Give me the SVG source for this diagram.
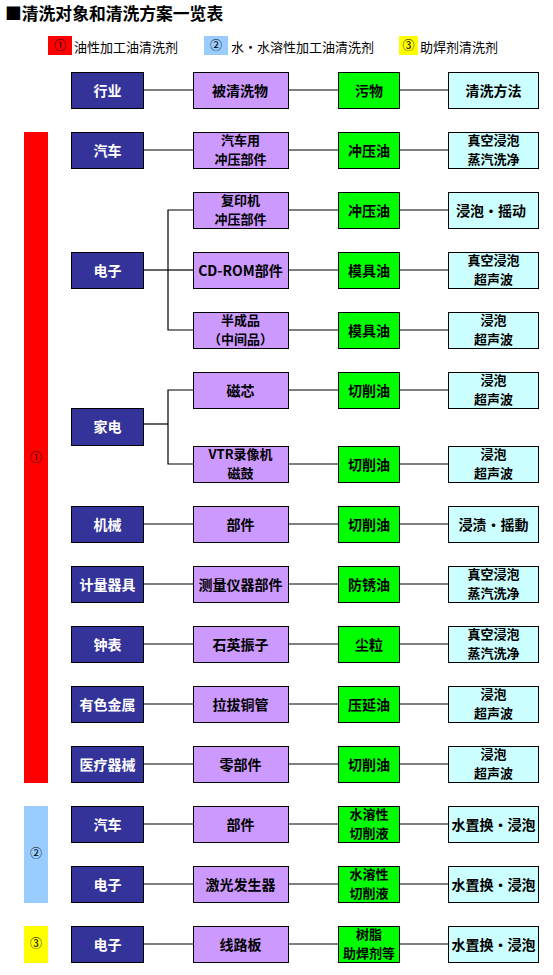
<svg xmlns="http://www.w3.org/2000/svg" width="553" height="975" viewBox="0 0 553 975">
<style>
text{font-family:"Noto Sans CJK SC","Noto Sans",sans-serif;text-anchor:middle}
.b rect{stroke:#000;stroke-width:1}
.c1 rect{fill:#333399}
.c1 text{fill:#fff;font-size:14px;font-weight:bold}
.c2 rect{fill:#CC99FF}
.c3 rect{fill:#00FF00}
.c4 rect{fill:#CCFFFF}
.c2 text,.c3 text,.c4 text{fill:#000;font-size:14px;font-weight:bold}
.c2 text.t2,.c3 text.t2,.c4 text.t2{font-size:13px}
.lg{font-size:13px;text-anchor:start}
.num{font-size:12px;fill:#000}
#connectors line,#connectors polyline{stroke:#000;stroke-width:1.2;fill:none}
</style>
<rect width="553" height="975" fill="#fff"/>
<g id="title"><text x="5" y="20" style="font-size:16.8px;font-weight:bold;text-anchor:start">■清洗对象和清洗方案一览表</text></g>
<g id="legend">
<rect x="48" y="36" width="24" height="19" fill="#FF0000"/><text class="num" x="60" y="50">①</text>
<text class="lg" x="74" y="52">油性加工油清洗剂</text>
<rect x="204" y="36" width="24" height="19" fill="#99CCFF"/><text class="num" x="216" y="50">②</text>
<text class="lg" x="231" y="52">水・水溶性加工油清洗剂</text>
<rect x="399" y="36" width="19" height="19" fill="#FFFF00"/><text class="num" x="408.5" y="50">③</text>
<text class="lg" x="420" y="52">助焊剂清洗剂</text>
</g>
<g id="bars">
<rect x="24" y="132" width="24" height="651" fill="#FF0000"/><text class="num" x="36" y="462">①</text>
<rect x="24" y="806" width="24" height="97" fill="#99CCFF"/><text class="num" x="36" y="858">②</text>
<rect x="24" y="926" width="24" height="37" fill="#FFFF00"/><text class="num" x="36" y="948">③</text>
</g>
<g id="connectors">
<line x1="144" y1="90" x2="193" y2="90"/><line x1="289" y1="90" x2="338" y2="90"/><line x1="400" y1="90" x2="448" y2="90"/>
<line x1="144" y1="150" x2="193" y2="150"/><line x1="289" y1="150" x2="338" y2="150"/><line x1="400" y1="150" x2="448" y2="150"/>
<line x1="144" y1="270" x2="168" y2="270"/>
<polyline points="193,210 168,210 168,330 193,330"/><line x1="168" y1="270" x2="193" y2="270"/>
<line x1="289" y1="210" x2="338" y2="210"/><line x1="400" y1="210" x2="448" y2="210"/>
<line x1="289" y1="270" x2="338" y2="270"/><line x1="400" y1="270" x2="448" y2="270"/>
<line x1="289" y1="330" x2="338" y2="330"/><line x1="400" y1="330" x2="448" y2="330"/>
<line x1="144" y1="424" x2="168" y2="424"/>
<polyline points="193,390 168,390 168,464 193,464"/>
<line x1="289" y1="390" x2="338" y2="390"/><line x1="400" y1="390" x2="448" y2="390"/>
<line x1="289" y1="464" x2="338" y2="464"/><line x1="400" y1="464" x2="448" y2="464"/>
<line x1="144" y1="524" x2="193" y2="524"/><line x1="289" y1="524" x2="338" y2="524"/><line x1="400" y1="524" x2="448" y2="524"/>
<line x1="144" y1="584" x2="193" y2="584"/><line x1="289" y1="584" x2="338" y2="584"/><line x1="400" y1="584" x2="448" y2="584"/>
<line x1="144" y1="644" x2="193" y2="644"/><line x1="289" y1="644" x2="338" y2="644"/><line x1="400" y1="644" x2="448" y2="644"/>
<line x1="144" y1="704" x2="193" y2="704"/><line x1="289" y1="704" x2="338" y2="704"/><line x1="400" y1="704" x2="448" y2="704"/>
<line x1="144" y1="764" x2="193" y2="764"/><line x1="289" y1="764" x2="338" y2="764"/><line x1="400" y1="764" x2="448" y2="764"/>
<line x1="144" y1="824" x2="193" y2="824"/><line x1="289" y1="824" x2="338" y2="824"/><line x1="400" y1="824" x2="448" y2="824"/>
<line x1="144" y1="884" x2="193" y2="884"/><line x1="289" y1="884" x2="338" y2="884"/><line x1="400" y1="884" x2="448" y2="884"/>
<line x1="144" y1="944" x2="193" y2="944"/><line x1="289" y1="944" x2="338" y2="944"/><line x1="400" y1="944" x2="448" y2="944"/>
</g>
<!-- header row -->
<g id="h1" class="b c1"><rect x="71.5" y="72.5" width="72" height="36"/><text x="107.5" y="95.5">行业</text></g>
<g id="h2" class="b c2"><rect x="193.5" y="72.5" width="95" height="36"/><text x="240" y="95.5">被清洗物</text></g>
<g id="h3" class="b c3"><rect x="338.5" y="72.5" width="61" height="36"/><text x="369" y="95.5">污物</text></g>
<g id="h4" class="b c4"><rect x="448.5" y="72.5" width="90" height="36"/><text x="493.5" y="95.5">清洗方法</text></g>
<!-- row 汽车 -->
<g id="n1a" class="b c1"><rect x="71.5" y="132.5" width="72" height="36"/><text x="107.5" y="155.5">汽车</text></g>
<g id="n1b" class="b c2"><rect x="193.5" y="132.5" width="95" height="36"/><text class="t2" x="240.5" y="145">汽车用<tspan x="240.5" dy="19">冲压部件</tspan></text></g>
<g id="n1c" class="b c3"><rect x="338.5" y="132.5" width="61" height="36"/><text x="369" y="155.5">冲压油</text></g>
<g id="n1d" class="b c4"><rect x="448.5" y="132.5" width="90" height="36"/><text class="t2" x="493.5" y="145">真空浸泡<tspan x="493.5" dy="19">蒸汽洗净</tspan></text></g>
<!-- 电子 -->
<g id="n2a" class="b c1"><rect x="71.5" y="252.5" width="72" height="36"/><text x="107.5" y="275.5">电子</text></g>
<g id="n2b" class="b c2"><rect x="193.5" y="192.5" width="95" height="36"/><text class="t2" x="240.5" y="205">复印机<tspan x="240.5" dy="19">冲压部件</tspan></text></g>
<g id="n2c" class="b c3"><rect x="338.5" y="192.5" width="61" height="36"/><text x="369" y="215.5">冲压油</text></g>
<g id="n2d" class="b c4"><rect x="448.5" y="192.5" width="90" height="36"/><text x="491" y="215.5">浸泡・摇动</text></g>
<g id="n3b" class="b c2"><rect x="193.5" y="252.5" width="95" height="36"/><text x="240.5" y="275.5">CD-ROM部件</text></g>
<g id="n3c" class="b c3"><rect x="338.5" y="252.5" width="61" height="36"/><text x="369" y="275.5">模具油</text></g>
<g id="n3d" class="b c4"><rect x="448.5" y="252.5" width="90" height="36"/><text class="t2" x="493.5" y="265">真空浸泡<tspan x="493.5" dy="19">超声波</tspan></text></g>
<g id="n4b" class="b c2"><rect x="193.5" y="312.5" width="95" height="36"/><text class="t2" x="240.5" y="325">半成品<tspan x="240.5" dy="19">（中间品）</tspan></text></g>
<g id="n4c" class="b c3"><rect x="338.5" y="312.5" width="61" height="36"/><text x="369" y="335.5">模具油</text></g>
<g id="n4d" class="b c4"><rect x="448.5" y="312.5" width="90" height="36"/><text class="t2" x="493.5" y="325">浸泡<tspan x="493.5" dy="19">超声波</tspan></text></g>
<!-- 家电 -->
<g id="n5a" class="b c1"><rect x="71.5" y="408.5" width="72" height="37"/><text x="107.5" y="432">家电</text></g>
<g id="n5b" class="b c2"><rect x="193.5" y="372.5" width="95" height="36"/><text x="240.5" y="395.5">磁芯</text></g>
<g id="n5c" class="b c3"><rect x="338.5" y="372.5" width="61" height="36"/><text x="369" y="395.5">切削油</text></g>
<g id="n5d" class="b c4"><rect x="448.5" y="372.5" width="90" height="36"/><text class="t2" x="493.5" y="385">浸泡<tspan x="493.5" dy="19">超声波</tspan></text></g>
<g id="n6b" class="b c2"><rect x="193.5" y="446.5" width="95" height="36"/><text class="t2" x="240.5" y="459">VTR录像机<tspan x="240.5" dy="19">磁鼓</tspan></text></g>
<g id="n6c" class="b c3"><rect x="338.5" y="446.5" width="61" height="36"/><text x="369" y="469.5">切削油</text></g>
<g id="n6d" class="b c4"><rect x="448.5" y="446.5" width="90" height="36"/><text class="t2" x="493.5" y="459">浸泡<tspan x="493.5" dy="19">超声波</tspan></text></g>
<!-- 机械 -->
<g id="n7a" class="b c1"><rect x="71.5" y="506.5" width="72" height="36"/><text x="107.5" y="529.5">机械</text></g>
<g id="n7b" class="b c2"><rect x="193.5" y="506.5" width="95" height="36"/><text x="240.5" y="529.5">部件</text></g>
<g id="n7c" class="b c3"><rect x="338.5" y="506.5" width="61" height="36"/><text x="369" y="529.5">切削油</text></g>
<g id="n7d" class="b c4"><rect x="448.5" y="506.5" width="90" height="36"/><text x="493.5" y="529.5">浸渍・摇動</text></g>
<!-- 计量器具 -->
<g id="n8a" class="b c1"><rect x="71.5" y="566.5" width="72" height="36"/><text x="107.5" y="589.5">计量器具</text></g>
<g id="n8b" class="b c2"><rect x="193.5" y="566.5" width="95" height="36"/><text x="240.5" y="589.5">测量仪器部件</text></g>
<g id="n8c" class="b c3"><rect x="338.5" y="566.5" width="61" height="36"/><text x="369" y="589.5">防锈油</text></g>
<g id="n8d" class="b c4"><rect x="448.5" y="566.5" width="90" height="36"/><text class="t2" x="493.5" y="579">真空浸泡<tspan x="493.5" dy="19">蒸汽洗净</tspan></text></g>
<!-- 钟表 -->
<g id="n9a" class="b c1"><rect x="71.5" y="626.5" width="72" height="36"/><text x="107.5" y="649.5">钟表</text></g>
<g id="n9b" class="b c2"><rect x="193.5" y="626.5" width="95" height="36"/><text x="240.5" y="649.5">石英振子</text></g>
<g id="n9c" class="b c3"><rect x="338.5" y="626.5" width="61" height="36"/><text x="369" y="649.5">尘粒</text></g>
<g id="n9d" class="b c4"><rect x="448.5" y="626.5" width="90" height="36"/><text class="t2" x="493.5" y="639">真空浸泡<tspan x="493.5" dy="19">蒸汽洗净</tspan></text></g>
<!-- 有色金属 -->
<g id="n10a" class="b c1"><rect x="71.5" y="686.5" width="72" height="36"/><text x="107.5" y="709.5">有色金属</text></g>
<g id="n10b" class="b c2"><rect x="193.5" y="686.5" width="95" height="36"/><text x="240.5" y="709.5">拉拔铜管</text></g>
<g id="n10c" class="b c3"><rect x="338.5" y="686.5" width="61" height="36"/><text x="369" y="709.5">压延油</text></g>
<g id="n10d" class="b c4"><rect x="448.5" y="686.5" width="90" height="36"/><text class="t2" x="493.5" y="699">浸泡<tspan x="493.5" dy="19">超声波</tspan></text></g>
<!-- 医疗器械 -->
<g id="n11a" class="b c1"><rect x="71.5" y="746.5" width="72" height="36"/><text x="107.5" y="769.5">医疗器械</text></g>
<g id="n11b" class="b c2"><rect x="193.5" y="746.5" width="95" height="36"/><text x="240.5" y="769.5">零部件</text></g>
<g id="n11c" class="b c3"><rect x="338.5" y="746.5" width="61" height="36"/><text x="369" y="769.5">切削油</text></g>
<g id="n11d" class="b c4"><rect x="448.5" y="746.5" width="90" height="36"/><text class="t2" x="493.5" y="759">浸泡<tspan x="493.5" dy="19">超声波</tspan></text></g>
<!-- ② 汽车 -->
<g id="n12a" class="b c1"><rect x="71.5" y="806.5" width="72" height="36"/><text x="107.5" y="829.5">汽车</text></g>
<g id="n12b" class="b c2"><rect x="193.5" y="806.5" width="95" height="36"/><text x="240.5" y="829.5">部件</text></g>
<g id="n12c" class="b c3"><rect x="338.5" y="806.5" width="61" height="36"/><text class="t2" x="369" y="819">水溶性<tspan x="369" dy="19">切削液</tspan></text></g>
<g id="n12d" class="b c4"><rect x="448.5" y="806.5" width="90" height="36"/><text x="493.5" y="829.5">水置换・浸泡</text></g>
<!-- ② 电子 -->
<g id="n13a" class="b c1"><rect x="71.5" y="866.5" width="72" height="36"/><text x="107.5" y="889.5">电子</text></g>
<g id="n13b" class="b c2"><rect x="193.5" y="866.5" width="95" height="36"/><text x="240.5" y="889.5">激光发生器</text></g>
<g id="n13c" class="b c3"><rect x="338.5" y="866.5" width="61" height="36"/><text class="t2" x="369" y="879">水溶性<tspan x="369" dy="19">切削液</tspan></text></g>
<g id="n13d" class="b c4"><rect x="448.5" y="866.5" width="90" height="36"/><text x="493.5" y="889.5">水置换・浸泡</text></g>
<!-- ③ 电子 -->
<g id="n14a" class="b c1"><rect x="71.5" y="926.5" width="72" height="36"/><text x="107.5" y="949.5">电子</text></g>
<g id="n14b" class="b c2"><rect x="193.5" y="926.5" width="95" height="36"/><text x="240.5" y="949.5">线路板</text></g>
<g id="n14c" class="b c3"><rect x="338.5" y="926.5" width="61" height="36"/><text class="t2" x="369" y="939">树脂<tspan x="369" dy="19">助焊剂等</tspan></text></g>
<g id="n14d" class="b c4"><rect x="448.5" y="926.5" width="90" height="36"/><text x="493.5" y="949.5">水置换・浸泡</text></g>
</svg>
